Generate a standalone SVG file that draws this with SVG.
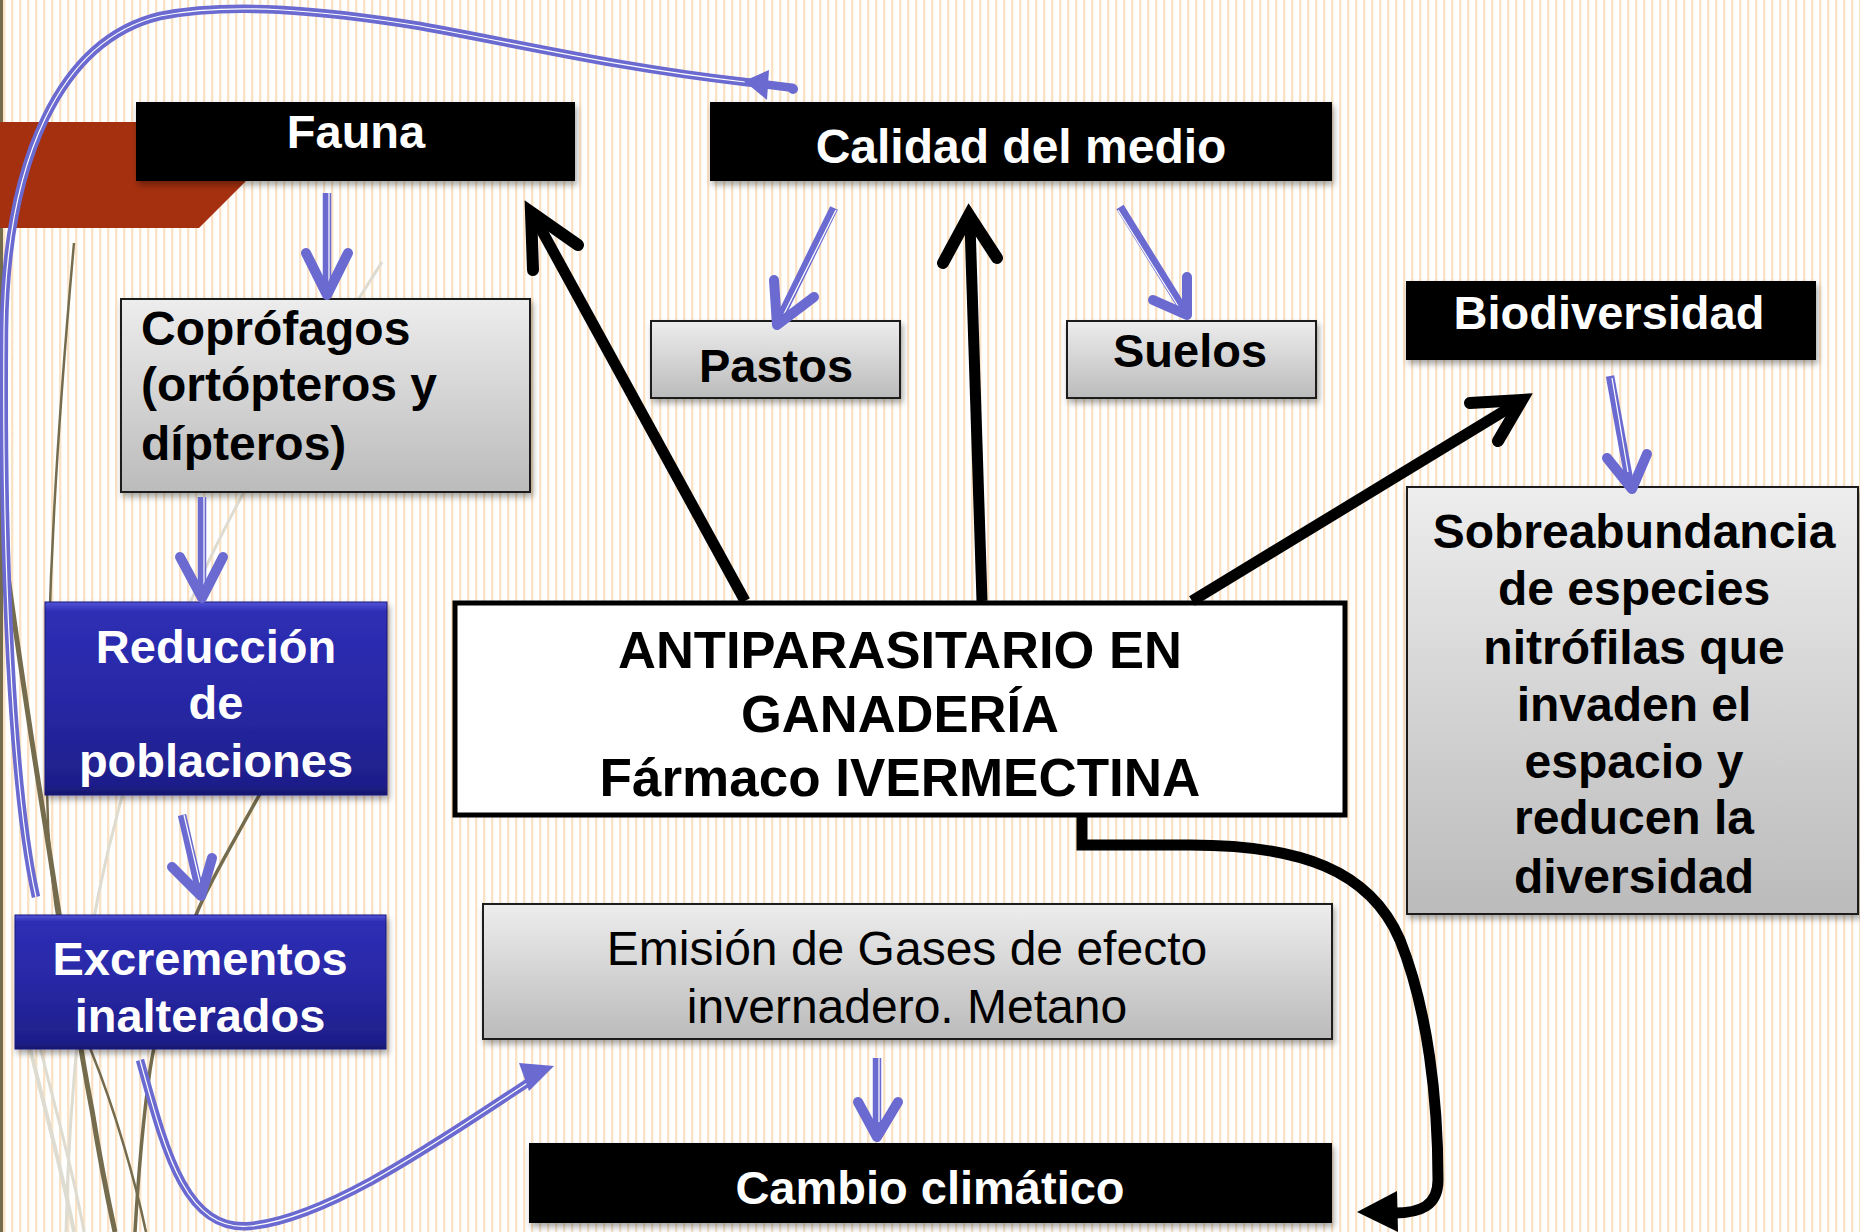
<svg xmlns="http://www.w3.org/2000/svg" width="1860" height="1232" viewBox="0 0 1860 1232">
<defs>
  <pattern id="stripes" x="0" y="0" width="8" height="8" patternUnits="userSpaceOnUse">
    <rect x="3" y="0" width="2.4" height="8" fill="#FAE2C6"/>
  </pattern>
  <linearGradient id="gray" x1="0" y1="0" x2="0" y2="1">
    <stop offset="0" stop-color="#EDEDED"/>
    <stop offset="1" stop-color="#BBBBBB"/>
  </linearGradient>
  <linearGradient id="blue" x1="0" y1="0" x2="0" y2="1">
    <stop offset="0" stop-color="#5454D8"/>
    <stop offset="0.05" stop-color="#2E2EB4"/>
    <stop offset="0.5" stop-color="#2828A6"/>
    <stop offset="0.95" stop-color="#1E1E8A"/>
    <stop offset="1" stop-color="#17176E"/>
  </linearGradient>
  <filter id="sh" x="-10%" y="-20%" width="120%" height="150%">
    <feDropShadow dx="2" dy="4" stdDeviation="3" flood-color="#000" flood-opacity="0.35"/>
  </filter>
  <style>
    .bt{font-family:"Liberation Sans",Arial,sans-serif;font-weight:bold;font-size:47px;}
    .rt{font-family:"Liberation Sans",Arial,sans-serif;font-weight:normal;font-size:48px;}
    .w{fill:#FFFFFF;}
    .k{fill:#000000;}
    .mid{text-anchor:middle;}
    .blk{fill:#000000;filter:url(#sh);}
    .gbox{fill:url(#gray);stroke:#1A1A1A;stroke-width:2;filter:url(#sh);}
    .bbox{fill:url(#blue);stroke:#1A1A7A;stroke-width:1;filter:url(#sh);}
    .bl{fill:none;stroke:#6A6AD0;stroke-width:8.5;stroke-linecap:butt;}
    .blw{fill:none;stroke:#FFFFFF;stroke-width:1.2;}
    .bh{fill:none;stroke:#6A6AD0;stroke-width:10;stroke-linecap:round;stroke-linejoin:round;}
    .ks{fill:none;stroke:#000000;stroke-width:11;}
    .kh{fill:none;stroke:#000000;stroke-width:12;stroke-linecap:round;stroke-linejoin:miter;}
    .ol{fill:none;stroke:#756C4E;}
    .lg{fill:none;stroke:#DEDBD0;}
  </style>
</defs>

<!-- background -->
<rect x="0" y="0" width="1860" height="1232" fill="#FFFFFF"/>
<rect x="0" y="0" width="1860" height="1232" fill="url(#stripes)"/>
<rect x="0" y="0" width="3" height="1232" fill="#756C4E"/>
<polygon points="0,122 305,122 199,228 0,228" fill="#A53010"/>

<!-- decorative grass lines -->
<g id="decor">
  <path class="lg" stroke-width="3" d="M 382 262 C 320 360, 250 470, 200 580 C 150 690, 110 820, 90 940 C 75 1040, 68 1140, 66 1232"/>
  <path class="lg" stroke-width="4" d="M 28 1040 C 45 1110, 62 1170, 74 1232"/>
  <path class="lg" stroke-width="3" d="M 20 960 C 40 1060, 70 1150, 84 1232"/>
  <path class="ol" stroke-width="2.5" d="M 74 243 C 58 420, 46 600, 47 790 C 48 900, 70 1000, 92 1053 C 115 1110, 135 1180, 146 1232"/>
  <path class="ol" stroke-width="5" d="M 0 516 C 8 580, 28 720, 46 830 C 60 920, 80 1050, 92 1110 C 100 1160, 108 1200, 115 1232"/>
  <path class="ol" stroke-width="3.5" d="M 262 790 C 235 840, 210 880, 196 915 C 170 980, 156 1030, 150 1070 C 143 1120, 138 1180, 135 1232"/>
</g>

<!-- nodes -->
<g id="fauna">
  <rect class="blk" x="136" y="102" width="439" height="79"/>
  <text class="bt w mid" x="356" y="148">Fauna</text>
</g>
<g id="calidad">
  <rect class="blk" x="710" y="102" width="622" height="79"/>
  <text class="bt w mid" x="1021" y="163" style="font-size:48px">Calidad del medio</text>
</g>
<g id="pastos">
  <rect class="gbox" x="651" y="321" width="249" height="77"/>
  <text class="bt k mid" x="776" y="382">Pastos</text>
</g>
<g id="suelos">
  <rect class="gbox" x="1067" y="321" width="249" height="77"/>
  <text class="bt k mid" x="1190" y="367">Suelos</text>
</g>
<g id="biodiversidad">
  <rect class="blk" x="1406" y="281" width="410" height="79"/>
  <text class="bt w mid" x="1609" y="329">Biodiversidad</text>
</g>
<g id="sobreabundancia">
  <rect class="gbox" x="1407" y="487" width="451" height="427"/>
  <g style="font-size:48px">
  <text class="bt k mid" x="1634" y="548" style="font-size:48px">Sobreabundancia</text>
  <text class="bt k mid" x="1634" y="605" style="font-size:48px">de especies</text>
  <text class="bt k mid" x="1634" y="664" style="font-size:48px">nitrófilas que</text>
  <text class="bt k mid" x="1634" y="721" style="font-size:48px">invaden el</text>
  <text class="bt k mid" x="1634" y="778" style="font-size:48px">espacio y</text>
  <text class="bt k mid" x="1634" y="834" style="font-size:48px">reducen la</text>
  <text class="bt k mid" x="1634" y="893" style="font-size:48px">diversidad</text>
  </g>
</g>
<g id="coprofagos">
  <rect class="gbox" x="121" y="299" width="409" height="193"/>
  <text class="bt k" x="141" y="345" style="font-size:48px">Copr&#243;fagos</text>
  <text class="bt k" x="141" y="401" style="font-size:48px">(ort&#243;pteros y</text>
  <text class="bt k" x="141" y="460" style="font-size:48px">d&#237;pteros)</text>
</g>
<g id="reduccion">
  <rect class="bbox" x="45" y="602" width="342" height="193"/>
  <text class="bt w mid" x="216" y="663">Reducci&#243;n</text>
  <text class="bt w mid" x="216" y="719">de</text>
  <text class="bt w mid" x="216" y="777">poblaciones</text>
</g>
<g id="excrementos">
  <rect class="bbox" x="15" y="915" width="371" height="134"/>
  <text class="bt w mid" x="200" y="975">Excrementos</text>
  <text class="bt w mid" x="200" y="1032">inalterados</text>
</g>
<g id="antiparasitario">
  <rect x="455" y="603" width="890" height="212" fill="#FFFFFF" stroke="#000000" stroke-width="5"/>
  <text class="bt k mid" x="900" y="668" style="font-size:52.5px">ANTIPARASITARIO EN</text>
  <text class="bt k mid" x="900" y="732" style="font-size:52.5px">GANADER&#205;A</text>
  <text class="bt k mid" x="900" y="796" style="font-size:53px">F&#225;rmaco IVERMECTINA</text>
</g>
<g id="emision">
  <rect class="gbox" x="483" y="904" width="849" height="135"/>
  <text class="rt k mid" x="907" y="965">Emisi&#243;n de Gases de efecto</text>
  <text class="rt k mid" x="907" y="1023">invernadero. Metano</text>
</g>
<g id="cambio">
  <rect class="blk" x="529" y="1143" width="803" height="80"/>
  <text class="bt w mid" x="930" y="1204">Cambio clim&#225;tico</text>
</g>

<!-- connectors -->
<g id="connectors">
  <!-- big top curve (Excrementos side to Calidad del medio) -->
  <path class="bl" stroke-width="7" d="M 36 897 C 12 790, 2 560, 4 330 C 6 160, 60 40, 160 16 C 230 2, 320 10, 420 26 C 520 44, 620 68, 745 82 L 794 88"/>
  <path class="blw" d="M 36 897 C 12 790, 2 560, 4 330 C 6 160, 60 40, 160 16 C 230 2, 320 10, 420 26 C 520 44, 620 68, 745 82"/>
  <polygon points="744,81 769,70 767,100" fill="#6A6AD0"/>
  <circle cx="793" cy="89" r="5" fill="#6A6AD0"/>

  <!-- Fauna -> Coprofagos -->
  <line class="bl" x1="327" y1="193" x2="327" y2="292"/>
  <line class="blw" x1="329" y1="193" x2="329" y2="282"/>
  <polyline class="bh" points="306,253 327,295 348,253"/>

  <!-- Coprofagos -> Reduccion -->
  <line class="bl" x1="202" y1="497" x2="202" y2="595"/>
  <line class="blw" x1="204" y1="497" x2="204" y2="585"/>
  <polyline class="bh" points="180,557 202,598 223,557"/>

  <!-- Reduccion -> Excrementos -->
  <line class="bl" x1="182" y1="815" x2="200" y2="893"/>
  <line class="blw" x1="184" y1="815" x2="200" y2="883"/>
  <polyline class="bh" points="172,867 201,896 212,858"/>

  <!-- Calidad -> Pastos -->
  <line class="bl" x1="834" y1="208" x2="778" y2="322"/>
  <line class="blw" x1="836" y1="210" x2="784" y2="314"/>
  <polyline class="bh" points="774,280 777,325 814,297"/>

  <!-- Calidad -> Suelos -->
  <line class="bl" x1="1120" y1="207" x2="1185" y2="312"/>
  <line class="blw" x1="1118" y1="210" x2="1178" y2="306"/>
  <polyline class="bh" points="1187,277 1187,315 1153,300"/>

  <!-- Biodiversidad -> Sobreabundancia -->
  <line class="bl" x1="1610" y1="376" x2="1630" y2="485"/>
  <line class="blw" x1="1612" y1="378" x2="1628" y2="472"/>
  <polyline class="bh" points="1607,458 1632,489 1647,454"/>

  <!-- Emision -> Cambio climatico -->
  <line class="bl" x1="877" y1="1058" x2="877" y2="1133"/>
  <line class="blw" x1="879" y1="1058" x2="879" y2="1122"/>
  <polyline class="bh" points="858,1102 877,1137 898,1102"/>

  <!-- Excrementos -> Emision (curved) -->
  <path class="bl" stroke-width="7" d="M 140 1060 C 165 1150, 185 1232, 250 1226 C 330 1218, 440 1140, 532 1080"/>
  <path class="blw" d="M 140 1060 C 165 1150, 185 1232, 250 1226 C 330 1218, 440 1140, 532 1080"/>
  <polygon points="554,1066 519,1063 529,1091" fill="#6A6AD0"/>

  <!-- Antiparasitario -> Fauna -->
  <line class="ks" x1="745" y1="601" x2="536" y2="220"/>
  <polyline class="kh" points="533,270 531,212 578,245"/>

  <!-- Antiparasitario -> Calidad del medio -->
  <line class="ks" x1="982" y1="601" x2="970" y2="224"/>
  <polyline class="kh" points="943,263 969,215 997,258"/>

  <!-- Antiparasitario -> Biodiversidad -->
  <line class="ks" x1="1192" y1="601" x2="1514" y2="405"/>
  <polyline class="kh" points="1470,403 1522,400 1498,441"/>

  <!-- Antiparasitario -> Cambio climatico -->
  <path class="ks" stroke-width="12" d="M 1082 815 V 845 H 1190 C 1300 845, 1370 870, 1400 940 C 1428 1010, 1438 1100, 1438 1180 C 1438 1206, 1420 1213, 1394 1213"/>
  <polygon points="1357,1212 1397,1191 1398,1232" fill="#000000"/>
</g>
</svg>
